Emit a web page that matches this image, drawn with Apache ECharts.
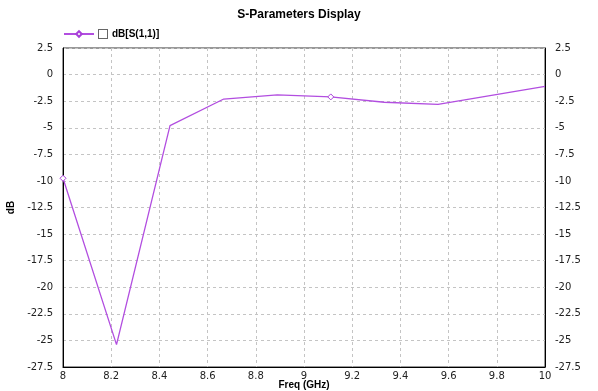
<!DOCTYPE html>
<html><head><meta charset="utf-8">
<script src="https://cdn.jsdelivr.net/npm/echarts@6/dist/echarts.min.js"></script>
<style>html,body{margin:0;padding:0;background:#fff}#c{width:598px;height:391px}</style>
</head><body><div id="c"></div>
<script>
var freqs = [8, 8.222, 8.444, 8.667, 8.889, 9.111, 9.333, 9.556, 9.778, 10];
var s11dB = [-9.75, -25.4, -4.8, -2.3, -1.9, -2.1, -2.6, -2.8, -1.95, -1.1];
var markerIdx = [0, 5];
var seriesName = 'dB[S(1,1)]';
var titleText = 'S-Parameters Display';
var xName = 'Freq (GHz)';
var yName = 'dB';

var chart = echarts.init(document.getElementById('c'));
var font = 'DejaVu Sans, Verdana, sans-serif';
var data = freqs.map(function (f, i) {
  var d = { value: [f, s11dB[i]] };
  if (markerIdx.indexOf(i) < 0) d.symbol = 'none';
  return d;
});
var yAxisBase = {
  type: 'value', min: -27.5, max: 2.5, interval: 2.5,
  axisLine: { show: true, lineStyle: { color: '#000' } },
  axisTick: { show: false },
  axisLabel: { color: '#222', fontSize: 10, fontFamily: font, margin: 10 }
};
chart.setOption({
  animation: false,
  title: { text: titleText, left: 'center', top: 4,
    textStyle: { fontSize: 12, fontWeight: 'bold', fontFamily: 'Liberation Sans, Arial, sans-serif', color: '#000' } },
  legend: {
    left: 58, top: 23, itemWidth: 30, itemHeight: 7, itemGap: 3,
    data: [seriesName],
    formatter: function (n) { return '{box|}{t|' + n + '}'; },
    textStyle: {
      rich: {
        box: { width: 8, height: 8, borderColor: '#666', borderWidth: 1, backgroundColor: '#fff', padding: 0 },
        t: { fontSize: 10, fontWeight: 'bold', fontFamily: 'Liberation Sans, Arial, sans-serif', color: '#000', padding: [0, 0, 0, 5] }
      }
    }
  },
  grid: { left: 63, right: 53, top: 48, bottom: 24, show: true, borderColor: '#333', borderWidth: 1,
    backgroundColor: 'transparent', containLabel: false, outerBoundsMode: 'none' },
  xAxis: {
    type: 'value', min: 8, max: 10, interval: 0.2,
    name: xName, nameLocation: 'middle', nameGap: 13, nameMoveOverlap: false,
    nameTextStyle: { fontSize: 10, fontWeight: 'bold', fontFamily: 'Liberation Sans, Arial, sans-serif', color: '#000' },
    axisLine: { show: true, onZero: false, lineStyle: { color: '#000' } },
    axisTick: { show: false },
    axisLabel: { color: '#222', fontSize: 10, fontFamily: font, margin: 4,
      formatter: function (v) { return +v.toFixed(1) + ''; } },
    splitLine: { show: true, lineStyle: { color: '#c4c4c4', type: [3, 3] } }
  },
  yAxis: [
    Object.assign({}, yAxisBase, {
      position: 'left',
      name: yName, nameLocation: 'middle', nameGap: 46, nameRotate: 90,
      nameTextStyle: { fontSize: 10, fontWeight: 'bold', fontFamily: 'Liberation Sans, Arial, sans-serif', color: '#000' },
      splitLine: { show: true, lineStyle: { color: '#c4c4c4', type: [3, 3] } }
    }),
    Object.assign({}, yAxisBase, { position: 'right', splitLine: { show: false } })
  ],
  series: [{
    name: seriesName, type: 'line', data: data,
    symbol: 'diamond', symbolSize: 6, showSymbol: true,
    itemStyle: { color: '#fff', borderColor: '#a83fd8', borderWidth: 1 },
    lineStyle: { color: '#b24ee0', width: 1.3 },
    color: '#b24ee0'
  }]
});
</script></body></html>
